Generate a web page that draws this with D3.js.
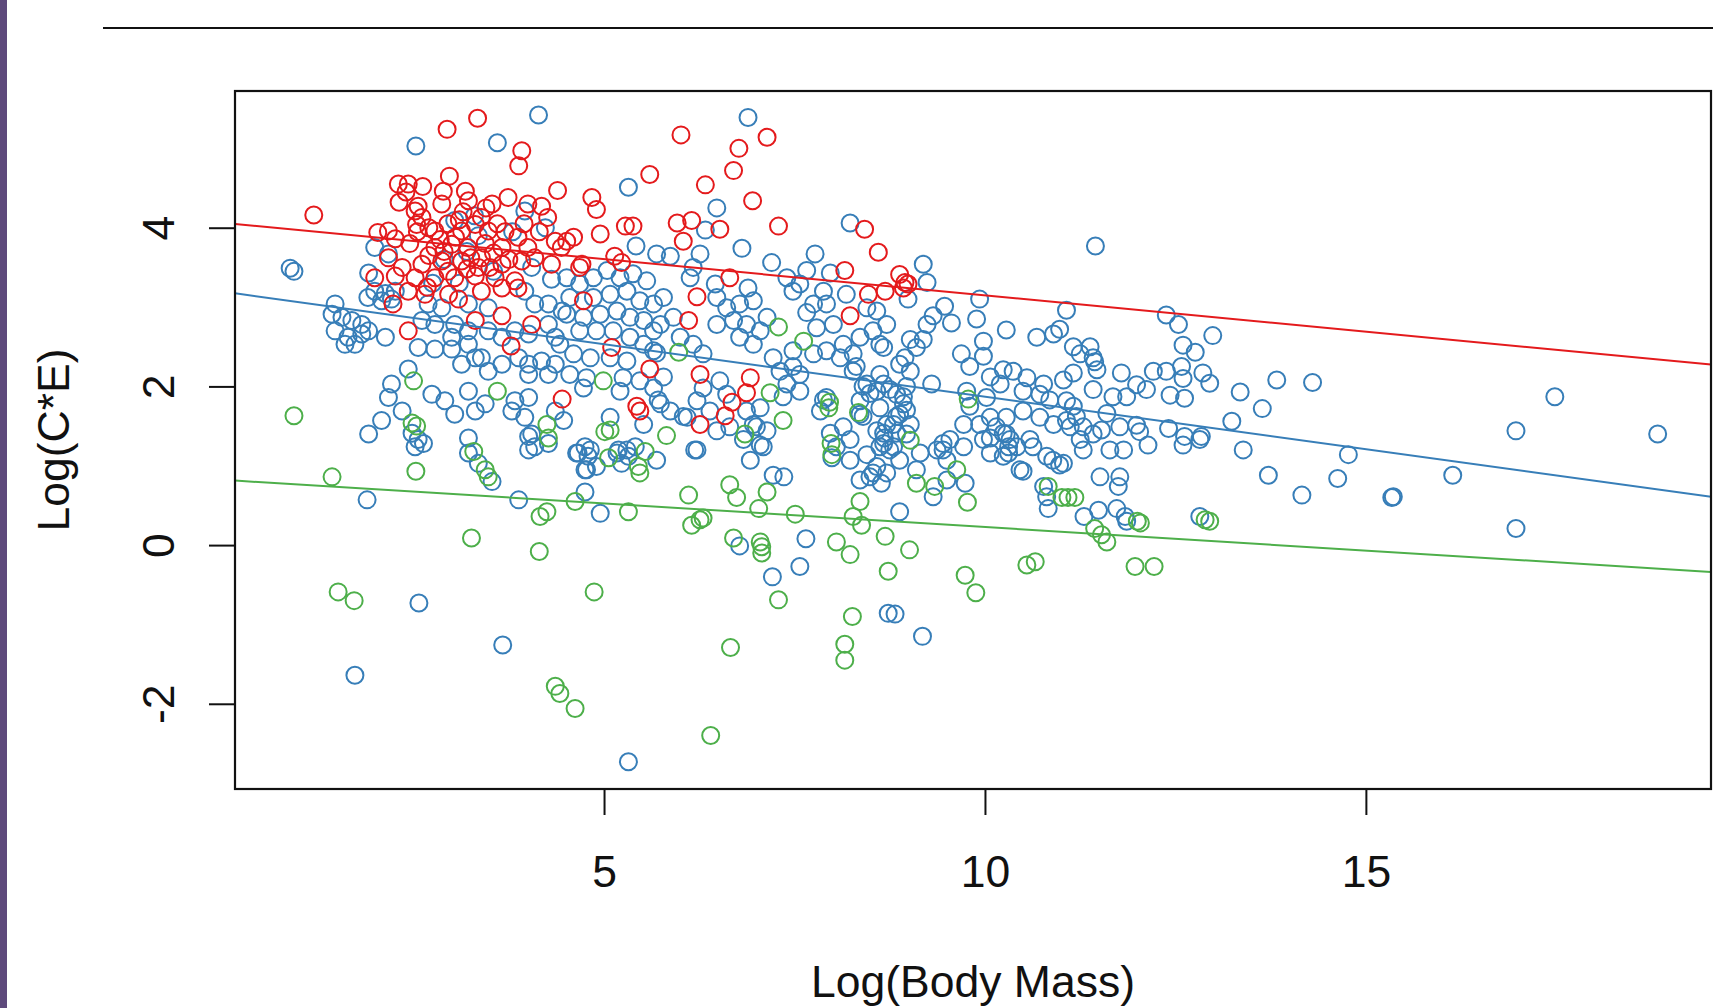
<!DOCTYPE html>
<html>
<head>
<meta charset="utf-8">
<script src="https://cdn.jsdelivr.net/npm/d3@7/dist/d3.min.js"></script>
<style>
  html, body { margin: 0; padding: 0; background: #ffffff; overflow: hidden; }
  #chart-container { width: 1713px; height: 1008px; }
</style>
</head>
<body>
<div id="chart-container"></div>
<script>
// values: [Log(Body Mass), Log(C*E)]
var bluePoints = [
  [4.14,5.42],[2.53,5.03],[3.60,5.07],[0.88,3.49],[0.93,3.45],[3.96,4.21],[4.23,4.00],[1.99,3.75],[2.17,3.67],[1.91,3.43],
  [1.99,3.20],[2.13,3.17],[2.26,3.20],[1.90,3.12],[2.08,3.08],[2.21,3.10],
  [1.47,3.04],[1.43,2.91],[1.56,2.87],[1.69,2.83],[1.82,2.78],[1.47,2.70],[1.64,2.62],[1.82,2.66],[1.60,2.53],[1.73,2.53],[1.91,2.70],[2.13,2.62],
  [2.69,3.04],[2.87,2.99],[2.61,2.83],[2.78,2.78],[3.04,2.78],[3.22,2.70],[3.00,2.62],[3.48,2.70],[3.66,2.62],[3.83,2.70],[4.01,2.66],[4.27,2.78],
  [4.36,2.62],[4.09,3.04],[4.27,3.04],[4.45,2.95],[3.96,3.20],[3.22,3.04],[3.48,2.99],
  [2.56,2.49],[2.78,2.47],[3.00,2.47],[3.22,2.53],[3.13,2.28],[3.31,2.36],[3.39,2.36],[3.48,2.19],[3.66,2.28],[3.88,2.36],[4.01,2.28],[4.18,2.32],
  [4.36,2.28],[4.01,2.15],[4.27,2.15],
  [2.43,2.22],[2.21,2.03],[2.17,1.86],[2.74,1.90],[2.91,1.82],[3.22,1.94],[3.04,1.65],[3.31,1.69],[3.44,1.78],[3.83,1.82],[4.01,1.86],[3.79,1.69],
  [3.96,1.61],[2.08,1.57],[2.35,1.69],[1.91,1.40],[3.22,1.35],[4.05,1.40],[4.36,1.69],
  [4.31,3.35],[4.05,3.50],[3.20,3.70],[3.55,3.45],[2.90,3.60],[3.10,3.30],[2.75,3.30],[3.35,3.90],[3.80,3.95],[3.04,4.09],[3.30,4.15],
  [2.48,1.41],[2.56,1.33],[2.63,1.28],[2.52,1.24],[3.22,1.16],[3.35,1.03],[3.53,0.80],[4.01,1.37],[4.09,1.24],[4.27,1.28],[4.01,1.20],
  [4.75,1.24],[4.66,1.16],[4.79,1.12],[4.75,0.95],[5.19,1.20],[5.32,1.12],[5.41,1.24],[5.23,1.03],[4.75,0.67],[1.89,0.57],[3.88,0.57],[4.95,0.40],
  [2.57,-0.73],[3.67,-1.26],[1.73,-1.64],
  [5.32,-2.73],[6.78,-0.01],[7.65,0.08],[7.57,-0.27],[7.21,-0.40],[8.73,-0.86],[7.22,0.88],[7.36,0.86],[6.92,1.07],[7.05,1.26],[6.19,1.20],
  [4.64,1.16],[4.82,1.20],[5.17,1.16],[5.30,1.20],[5.69,1.07],[4.77,0.95],[4.90,0.99],[7.99,1.10],[8.45,1.14],[8.36,0.82],[8.53,0.91],[8.64,0.78],[8.62,1.24],
  [8.75,1.20],[8.71,0.91],[8.88,1.07],[9.15,1.16],[9.10,0.95],[9.45,1.20],[9.50,1.07],[9.72,1.24],[9.74,0.78],[9.50,0.82],[9.32,0.61],[8.88,0.42],
  [10.31,1.24],[10.31,1.16],[10.50,0.93],[10.63,1.24],[10.81,1.12],[10.98,1.01],[10.89,1.07],[10.77,0.74],[10.81,0.61],[10.83,0.46],
  [11.29,1.20],[11.64,1.20],[11.82,1.20],[11.51,0.86],[11.77,0.86],[11.75,0.74],[12.14,1.26],[12.60,1.26],[12.82,1.33],
  [11.30,0.36],[11.49,0.44],[11.73,0.46],[11.84,0.36],[11.86,0.30],[12.82,0.36],[8.82,-0.87],[9.18,-1.15],
  [11.07,2.96],[12.38,2.90],[12.54,2.78],[12.99,2.64],[12.60,2.52],[12.76,2.43],[11.16,2.50],[11.38,2.50],[11.44,2.31],[11.47,2.21],[11.16,2.17],
  [11.03,2.08],[11.79,2.17],[12.21,2.19],[12.38,2.19],[12.58,2.25],[12.60,2.10],[12.86,2.17],[12.95,2.04],[11.99,2.02],[12.12,1.96],[12.43,1.89],
  [12.62,1.85],[11.86,1.87],[11.68,1.87],[11.42,1.96],[13.35,1.93],[13.83,2.08],[14.30,2.05],[13.64,1.72],[13.24,1.56],[11.16,1.75],[11.20,1.62],
  [11.12,1.49],[11.29,1.49],[11.25,1.33],[11.03,1.03],[11.60,1.66],[11.53,1.45],[11.77,1.49],[11.99,1.51],[12.03,1.43],[12.41,1.47],[12.62,1.37],
  [12.84,1.37],[13.39,1.20],[13.72,0.88],[14.16,0.63],[14.63,0.84],[14.77,1.14],[15.34,0.60],[15.36,0.61],[16.14,0.88],
  [17.48,1.87],[16.97,1.44],[18.83,1.40],[16.97,0.21],[11.45,3.77],
  [6.89,5.39],[5.32,4.51],[6.48,4.25],[6.81,3.74],[6.33,3.97],[5.42,3.77],[7.20,3.56],[8.23,4.06],[7.77,3.67],[6.26,3.67],[5.87,3.64],[5.69,3.67],
  [7.66,3.46],[7.57,3.29],[7.88,3.20],[7.97,3.43],[7.66,2.93],[6.89,3.24],[6.46,3.29],
  [6.48,3.12],[6.61,2.99],[6.78,3.04],[6.96,3.08],[6.70,2.83],[6.87,2.78],[7.05,2.70],[6.78,2.62],[6.48,2.78],[6.96,2.53],[7.14,2.87],[6.17,3.50],
  [6.13,3.37],[5.78,3.12],[5.91,2.87],[5.74,2.78],[6.00,2.62],[6.17,2.53],[6.30,2.41],
  [4.51,3.37],[4.68,3.29],[4.86,3.37],[5.04,3.46],[5.21,3.37],[5.38,3.42],[5.56,3.33],[5.30,3.20],[5.08,3.16],[4.86,3.12],[4.55,3.12],[5.47,3.08],
  [5.65,3.04],[4.51,2.91],[4.73,2.87],[4.95,2.91],[5.17,2.95],[5.34,2.87],[5.52,2.83],[5.65,2.70],[4.68,2.70],[4.90,2.70],[5.12,2.70],[5.34,2.62],
  [5.52,2.53],[5.65,2.45],[4.42,2.53],[4.60,2.41],[4.82,2.36],[5.08,2.36],[5.30,2.32],[4.55,2.15],[4.77,2.11],[5.25,2.11],[5.47,2.07],[4.73,1.98],
  [5.21,1.94],[5.65,1.98],[5.74,1.78],[5.87,1.69],[4.47,1.57],[5.08,1.61],[5.52,1.52],
  [6.30,1.98],[6.52,2.07],[6.61,1.90],[6.22,1.82],[6.39,1.69],[6.09,1.61],[6.87,1.69],[7.05,1.73],[6.96,1.52],[6.48,1.44],[7.14,1.44],
  [7.57,1.94],[7.92,1.86],[7.84,1.69],[8.27,2.19],[8.45,2.03],[8.58,1.94],[8.36,1.82],[8.62,1.73],[8.36,1.65],[8.58,1.44],[8.71,1.52],
  [7.75,2.41],[7.92,2.45],[8.14,2.53],[8.36,2.62],[8.53,2.70],[8.71,2.78],[8.58,2.95],[8.45,2.99],[8.62,2.53],[8.10,2.36],[8.27,2.41],
  [7.48,3.20],[7.40,3.37],[7.75,3.04],[7.92,3.04],[8.18,3.16],[8.01,2.78],[7.79,2.74],
  [7.48,2.45],[7.22,2.36],[7.31,2.19],[7.40,2.03],[7.57,2.15],
  [9.19,3.54],[9.24,3.31],[8.99,3.10],[9.93,3.10],[9.47,3.01],[9.32,2.89],[9.56,2.80],[9.24,2.78],[9.89,2.85],[10.28,2.71],[9.98,2.57],[9.69,2.41],
  [10.68,2.62],[10.98,2.72],[10.90,2.66],[11.25,2.41],[9.19,2.59],[9.10,2.49],[8.95,2.36],[9.02,2.19],[8.88,2.28],[8.67,2.49],[8.62,2.15],[8.67,2.03],
  [8.84,1.90],[8.93,1.78],[8.88,1.65],[9.02,1.52],[8.80,1.52],[8.97,1.40],[9.30,2.03],[10.02,1.86],[10.20,2.03],[10.37,2.19],[10.55,2.11],[10.77,2.03],
  [10.50,1.94],[10.72,1.90],[11.07,1.82],[11.42,2.36],[10.07,1.61],[10.28,1.61],[10.50,1.69],[10.72,1.61],[10.90,1.52],[11.07,1.57],[11.42,1.40],
  [10.28,1.40],[9.93,1.52],[9.72,1.52],[10.07,1.35],[9.76,1.94],
  [8.67,1.28],[8.58,0.99],[8.49,0.86],[8.84,1.41],[8.67,1.41],[9.54,1.33],[8.93,1.87],[8.97,1.70],[8.84,1.62],[8.97,2.00],[8.75,1.96],[8.68,1.35],
  [8.80,1.24],[8.40,2.00],[8.49,1.91],[9.37,1.20],[9.45,1.28],[5.69,2.42],[5.78,2.12],[5.71,1.83],[6.04,1.62],[6.22,1.20],[6.65,1.49],[6.83,1.33],
  [7.00,1.49],[7.09,1.24],[7.35,1.87],[7.48,2.25],[7.88,1.83],[7.97,1.41],[8.05,1.24],[8.14,1.49],[8.23,1.33],[8.40,1.62],[8.23,1.07],[8.31,2.25],
  [9.02,2.59],[9.98,2.38],[9.80,2.25],[10.07,2.12],[10.24,2.21],[9.80,1.75],[10.15,1.49],[10.24,1.41],[10.33,1.33],[10.42,1.24],[9.98,1.33],
  [10.07,1.16],[10.59,1.33],[10.46,0.95],[10.24,1.12],[10.85,1.83]
];

var greenPoints = [
  [2.50,2.07],[3.60,1.94],[0.93,1.63],[2.48,1.54],[2.54,1.50],[4.25,1.52],[4.27,1.35],
  [3.29,1.18],[3.44,0.95],[3.48,0.86],[5.01,1.43],[5.08,1.45],[5.06,1.10],[5.45,0.99],[5.47,0.91],[5.54,1.18],[1.43,0.86],[2.53,0.93],
  [4.16,0.36],[4.25,0.42],[4.62,0.55],[5.32,0.42],[3.26,0.09],[4.15,-0.08],
  [1.51,-0.59],[1.72,-0.70],[4.36,-1.78],[4.42,-1.87],
  [4.87,-0.59],[4.62,-2.06],[6.40,-2.40],[6.66,-1.29],[7.29,-0.69],[8.26,-0.90],[8.16,-1.25],[8.16,-1.45],[8.05,0.04],[8.23,-0.12],[8.73,-0.33],
  [8.69,0.11],[8.36,0.55],[8.27,0.36],[8.38,0.25],[7.51,0.39],[7.05,0.04],[7.07,-0.02],[7.07,-0.10],[6.70,0.09],[7.03,0.46],[7.14,0.67],[6.65,0.76],
  [6.74,0.60],[6.11,0.63],[6.15,0.25],[6.26,0.32],[6.30,0.34],[7.98,1.28],[7.99,1.14],
  [9.02,1.32],[9.63,0.95],[9.10,0.78],[9.34,0.74],[9.77,0.54],[9.01,-0.06],[9.74,-0.38],[9.88,-0.60],[10.55,-0.25],[10.66,-0.21],[10.83,0.74],
  [11.01,0.60],[11.09,0.60],[11.18,0.60],[11.44,0.21],[11.53,0.13],[11.60,0.04],[11.97,-0.27],[12.22,-0.27],[12.00,0.30],[12.04,0.28],
  [12.89,0.32],[12.95,0.30],
  [7.29,2.75],[7.62,2.57],[5.98,2.43],[4.99,2.07],[7.18,1.92],[7.35,1.57],[7.95,1.73],[7.96,1.80],[8.34,1.67],[5.82,1.38],[6.85,1.40],[9.78,1.84]
];

var redPoints = [
  [3.34,5.38],[2.94,5.24],[3.92,4.97],[3.88,4.78],[1.19,4.16],[2.97,4.65],[4.39,4.47],
  [2.30,4.55],[2.43,4.55],[2.31,4.32],[2.56,4.27],[2.54,4.04],[2.61,4.13],[2.52,4.21],
  [3.18,4.46],[3.22,4.34],[2.87,4.30],[2.89,4.46],[3.74,4.38],[3.53,4.30],[4.00,4.30],[4.18,4.27],[4.26,4.13],
  [2.03,3.94],[2.17,3.96],[2.26,3.86],
  [2.78,3.96],[2.95,4.05],[3.13,3.96],[3.31,4.04],[3.48,3.96],[3.39,4.13],[2.78,3.75],[3.00,3.79],[3.21,3.75],[3.44,3.80],[3.66,3.75],[3.87,3.88],
  [4.00,3.75],[4.31,3.54],[4.36,3.83],[4.09,3.62],
  [2.61,3.54],[2.87,3.58],[3.13,3.58],[3.39,3.62],[3.66,3.54],[3.92,3.58],
  [2.17,3.62],[2.35,3.50],[1.99,3.37],[2.26,3.39],
  [2.52,3.37],[2.78,3.37],[3.04,3.37],[3.31,3.39],[3.57,3.37],[3.83,3.33],
  [2.43,3.20],[2.65,3.16],[2.96,3.16],[3.39,3.20],[3.66,3.24],[3.87,3.24],
  [2.23,3.04],[3.09,3.10],[3.31,2.83],[3.66,2.89],[4.05,2.78],[2.43,2.70],[3.78,2.51],[4.45,1.84],
  [2.70,4.00],[3.05,3.88],[3.60,4.05],[2.95,3.45],[3.20,3.48],[3.50,3.50],[2.70,3.65],[3.15,4.20],[2.45,3.80],[3.75,3.60],[2.40,4.45],[2.62,4.52],
  [2.85,3.85],[3.25,3.62],[3.55,3.68],[2.55,3.95],[3.95,4.05],[2.68,3.25],[3.45,4.25],[4.15,3.95],[3.10,4.10],[3.70,3.95],[2.90,3.70],[3.35,3.50],
  [6.01,5.17],[7.14,5.14],[6.77,5.00],[6.70,4.72],[5.60,4.67],[6.33,4.54],[6.95,4.34],[4.84,4.38],[4.90,4.23],[4.95,3.92],[5.28,4.02],[5.38,4.02],
  [5.96,4.06],[6.15,4.09],[6.04,3.83],[6.52,3.98],[7.29,4.02],[8.42,3.98],[8.60,3.69],[8.16,3.46],[8.47,3.16],[8.69,3.20],[8.23,2.89],[6.65,3.37],
  [6.22,3.13],[6.11,2.83],[5.14,3.64],[5.23,3.56],[4.71,3.54],[4.68,3.50],[4.51,3.83],[4.60,3.88],[4.44,3.75],[4.73,3.08],[5.10,2.49],[5.60,2.22],
  [6.26,2.15],[6.92,2.11],[6.87,1.92],[6.68,1.80],[6.59,1.63],[6.26,1.52],[5.43,1.75],[5.47,1.69],
  [8.88,3.41],[8.95,3.31],[8.99,3.29],[8.93,3.24]
];

// drawing order: blue, green, red (red sits on top)
var seriesNames = ["blue", "green", "red"];
var seriesColors = ["#377EB8", "#4DAF4A", "#E41A1C"];

// fitted lines (red, blue, green): y = a + b * x
var lineNames = ["red", "blue", "green"];
var lineIntercepts = [4.061, 3.194, 0.822];
var lineSlopes = [-0.0914, -0.1324, -0.0594];

var xTicks = [5, 10, 15];
var yTicks = [-2, 0, 2, 4];
var xTitle = "Log(Body Mass)";
var yTitle = "Log(C*E)";

document.addEventListener("DOMContentLoaded", function () {
    var width = 1713;
    var height = 1008;
    // plot box in page pixels
    var left = 235, right = 1711, top = 91, bottom = 789;
    var ink = "#111111";
    var fontFamily = "'Liberation Sans', Arial, sans-serif";
    var fontSize = "44.5px";

    var svg = d3.select("#chart-container")
        .append("svg")
        .attr("width", width)
        .attr("height", height);

    // purple strip on the left edge and the rule above the figure
    svg.append("rect")
        .attr("x", 0).attr("y", 0)
        .attr("width", 7).attr("height", height)
        .attr("fill", "#5e4a7c");
    svg.append("line")
        .attr("x1", 103).attr("x2", width)
        .attr("y1", 28).attr("y2", 28)
        .attr("stroke", ink)
        .attr("stroke-width", 2);

    var x = d3.scaleLinear().domain([0.156, 19.53]).range([left, right]);
    var y = d3.scaleLinear().domain([-3.074, 5.723]).range([bottom, top]);

    var colorScale = d3.scaleOrdinal().domain(seriesNames).range(seriesColors);
    var lineColor = d3.scaleOrdinal().domain(lineNames).range(["#E41A1C", "#377EB8", "#4DAF4A"]);

    svg.append("clipPath")
        .attr("id", "plot-clip")
        .append("rect")
        .attr("x", left).attr("y", top)
        .attr("width", right - left).attr("height", bottom - top);

    var plot = svg.append("g").attr("clip-path", "url(#plot-clip)");

    // open circles, one group per series
    var seriesData = [bluePoints, greenPoints, redPoints];
    seriesNames.forEach(function (name, i) {
        plot.append("g")
            .selectAll("circle")
            .data(seriesData[i])
            .enter()
            .append("circle")
            .attr("cx", d => x(d[0]))
            .attr("cy", d => y(d[1]))
            .attr("r", 8.5)
            .attr("fill", "none")
            .attr("stroke", colorScale(name))
            .attr("stroke-width", 2);
    });

    // regression lines across the whole box
    var xd = x.domain();
    plot.selectAll(".fit")
        .data(lineNames)
        .enter()
        .append("line")
        .attr("class", "fit")
        .attr("x1", x(xd[0]))
        .attr("x2", x(xd[1]))
        .attr("y1", (d, i) => y(lineIntercepts[i] + lineSlopes[i] * xd[0]))
        .attr("y2", (d, i) => y(lineIntercepts[i] + lineSlopes[i] * xd[1]))
        .attr("stroke", d => lineColor(d))
        .attr("stroke-width", 2);

    // plain hyphen for negatives, like the original
    var plainFormat = d => String(d);

    // x axis
    var xAxis = svg.append("g")
        .attr("transform", "translate(0," + bottom + ")")
        .attr("color", ink)
        .call(d3.axisBottom(x).tickValues(xTicks).tickSize(26).tickFormat(plainFormat));
    xAxis.select(".domain").remove();
    xAxis.selectAll(".tick line").attr("stroke-width", 2);
    xAxis.selectAll(".tick text")
        .attr("y", 98)
        .attr("dy", 0)
        .style("font-family", fontFamily)
        .style("font-size", fontSize)
        .attr("fill", ink);

    // y axis, labels parallel to the axis
    var yAxis = svg.append("g")
        .attr("transform", "translate(" + left + ",0)")
        .attr("color", ink)
        .call(d3.axisLeft(y).tickValues(yTicks).tickSize(26).tickFormat(plainFormat));
    yAxis.select(".domain").remove();
    yAxis.selectAll(".tick line").attr("stroke-width", 2);
    yAxis.selectAll(".tick text")
        .attr("x", 0)
        .attr("dy", 0)
        .attr("text-anchor", "middle")
        .attr("transform", "translate(-61,0) rotate(-90)")
        .style("font-family", fontFamily)
        .style("font-size", fontSize)
        .attr("fill", ink);

    // box
    svg.append("rect")
        .attr("x", left).attr("y", top)
        .attr("width", right - left).attr("height", bottom - top)
        .attr("fill", "none")
        .attr("stroke", ink)
        .attr("stroke-width", 2.2);

    // axis titles
    svg.append("text")
        .attr("x", (left + right) / 2)
        .attr("y", 997)
        .attr("text-anchor", "middle")
        .style("font-family", fontFamily)
        .style("font-size", fontSize)
        .attr("fill", ink)
        .text(xTitle);

    svg.append("text")
        .attr("transform", "translate(69," + (top + bottom) / 2 + ") rotate(-90)")
        .attr("text-anchor", "middle")
        .style("font-family", fontFamily)
        .style("font-size", fontSize)
        .attr("fill", ink)
        .text(yTitle);
});
</script>
</body>
</html>
